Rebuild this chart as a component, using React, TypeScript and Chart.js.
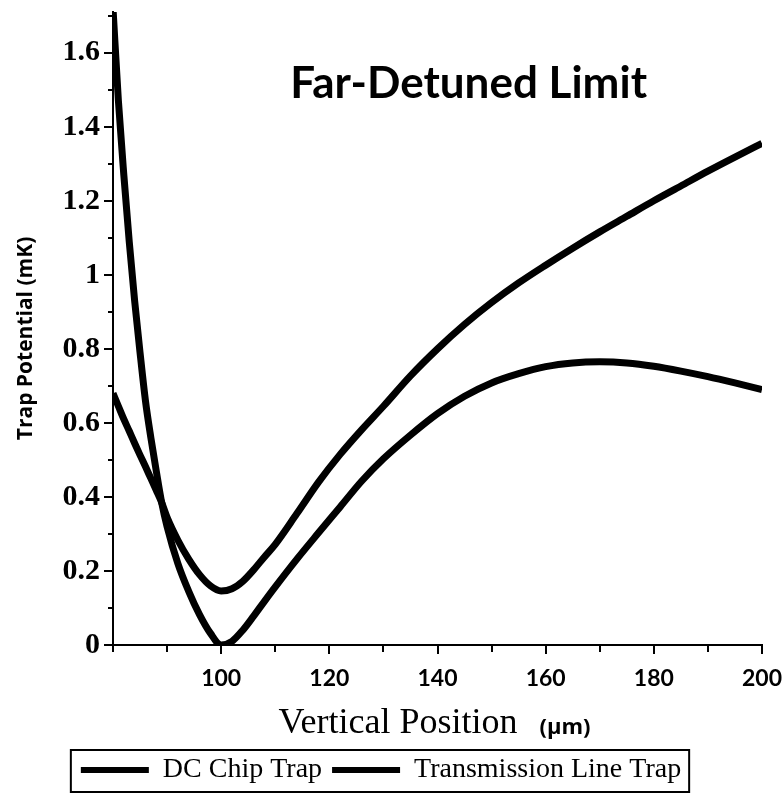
import React, { useEffect, useRef } from 'react';
import { Chart, registerables } from 'chart.js';

Chart.register(...registerables);

// Vertical position (µm)
const positions = [80, 81, 82, 83, 84, 85, 86, 87, 88, 89, 90, 92, 94, 96, 98, 100, 102, 104, 106, 108, 110, 114, 118, 122, 126, 130, 135, 140, 145, 150, 155, 160, 165, 170, 175, 180, 185, 190, 195, 200];
// Trap potential (mK)
const dcChipTrap = [1.72, 1.47, 1.27, 1.09, 0.93, 0.79, 0.66, 0.56, 0.47, 0.385, 0.32, 0.22, 0.145, 0.082, 0.032, 0.0, 0.01, 0.04, 0.078, 0.118, 0.157, 0.232, 0.303, 0.373, 0.443, 0.503, 0.567, 0.625, 0.672, 0.708, 0.733, 0.752, 0.762, 0.765, 0.762, 0.753, 0.74, 0.725, 0.708, 0.69];
const transmissionLineTrap = [0.68, 0.645, 0.61, 0.578, 0.545, 0.513, 0.482, 0.45, 0.418, 0.385, 0.345, 0.283, 0.232, 0.19, 0.16, 0.146, 0.152, 0.172, 0.203, 0.238, 0.272, 0.355, 0.44, 0.515, 0.582, 0.645, 0.727, 0.8, 0.866, 0.925, 0.978, 1.026, 1.072, 1.116, 1.158, 1.2, 1.24, 1.28, 1.318, 1.355];

const seriesNames = ['DC Chip Trap', 'Transmission Line Trap'];
const xLabelTicks = [100, 120, 140, 160, 180, 200];
const xTickMarks = [80, 90, 100, 110, 120, 130, 140, 150, 160, 170, 180, 190, 200];
const yLabelTicks = [0, 0.2, 0.4, 0.6, 0.8, 1, 1.2, 1.4, 1.6];
const yTickMarks = [0, 0.1, 0.2, 0.3, 0.4, 0.5, 0.6, 0.7, 0.8, 0.9, 1, 1.1, 1.2, 1.3, 1.4, 1.5, 1.6, 1.7];
const xRange = [80, 200];
const yRange = [0, 1.71];

const chartTitle = 'Far-Detuned Limit';
const xTitle = 'Vertical Position';
const xUnit = '(µm)';
const yTitle = 'Trap Potential (mK)';

const decorPlugin = {
  id: 'decor',
  afterDraw(chart: any) {
    const { ctx, chartArea, scales } = chart;
    const x = scales.x;
    const y = scales.y;
    ctx.save();
    ctx.strokeStyle = '#000';
    ctx.lineWidth = 2;
    // x tick marks
    xTickMarks.forEach((v) => {
      const px = Math.round(x.getPixelForValue(v));
      const len = xLabelTicks.includes(v) ? 9 : 7;
      ctx.beginPath();
      ctx.moveTo(px, chartArea.bottom);
      ctx.lineTo(px, chartArea.bottom + len);
      ctx.stroke();
    });
    // y tick marks
    yTickMarks.forEach((v) => {
      const py = Math.round(y.getPixelForValue(v));
      const major = yLabelTicks.some((t) => Math.abs(t - v) < 1e-6);
      const len = major ? 9 : 5;
      ctx.beginPath();
      ctx.moveTo(chartArea.left - len, py);
      ctx.lineTo(chartArea.left, py);
      ctx.stroke();
    });

    ctx.fillStyle = '#000';

    // y axis title (rotated)
    ctx.save();
    ctx.translate(26, (chartArea.top + chartArea.bottom) / 2 + 10);
    ctx.rotate(-Math.PI / 2);
    ctx.font = 'bold 21px "Open Sans"';
    ctx.textAlign = 'center';
    ctx.textBaseline = 'middle';
    ctx.fillText(yTitle, 0, 0);
    ctx.restore();

    // chart title inside plot
    ctx.font = 'bold 44px Lato';
    ctx.textAlign = 'center';
    ctx.textBaseline = 'alphabetic';
    ctx.fillText(chartTitle, chartArea.left + (chartArea.right - chartArea.left) * 0.548, 98);

    // x axis title (two fonts)
    ctx.font = '36px "Liberation Serif"';
    const w1 = ctx.measureText(xTitle).width;
    ctx.font = 'bold 22px "Open Sans"';
    const w2 = ctx.measureText(xUnit).width;
    const gap = 22;
    const total = w1 + gap + w2;
    const cx = (chartArea.left + chartArea.right) / 2 - 3;
    const startX = cx - total / 2;
    ctx.textAlign = 'left';
    ctx.font = '36px "Liberation Serif"';
    ctx.fillText(xTitle, startX, 733);
    ctx.font = 'bold 22px "Open Sans"';
    ctx.fillText(xUnit, startX + w1 + gap, 734);

    // legend border
    const legend = chart.legend;
    if (legend && legend.legendHitBoxes && legend.legendHitBoxes.length) {
      const hbs = legend.legendHitBoxes;
      const left = Math.min(...hbs.map((h: any) => h.left)) - 10;
      const right = Math.max(...hbs.map((h: any) => h.left + h.width)) + 8;
      const top = Math.min(...hbs.map((h: any) => h.top)) - 6;
      const bottom = Math.max(...hbs.map((h: any) => h.top + h.height)) + 8;
      ctx.lineWidth = 2;
      ctx.strokeRect(left, top, right - left, bottom - top);
    }
    ctx.restore();
  },
};

export default function App() {
  const canvasRef = useRef<HTMLCanvasElement | null>(null);

  useEffect(() => {
    const canvas = canvasRef.current;
    if (!canvas) return;
    const lineStyle = {
      borderColor: '#000',
      backgroundColor: '#000',
      borderWidth: 7,
      pointRadius: 0,
      cubicInterpolationMode: 'monotone',
      borderJoinStyle: 'round',
    };
    const chart = new Chart(canvas, {
      type: 'line',
      data: {
        datasets: [
          {
            label: seriesNames[0],
            data: positions.map((p, i) => ({ x: p, y: dcChipTrap[i] })),
            ...lineStyle,
          },
          {
            label: seriesNames[1],
            data: positions.map((p, i) => ({ x: p, y: transmissionLineTrap[i] })),
            ...lineStyle,
          },
        ],
      },
      options: {
        animation: false,
        responsive: false,
        devicePixelRatio: 1,
        layout: { padding: { top: 12, right: 20, left: 0, bottom: 0 } },
        plugins: {
          tooltip: { enabled: false },
          title: { display: false },
          legend: {
            display: true,
            position: 'bottom',
            labels: {
              color: '#000',
              font: { family: '"Liberation Serif"', size: 28 },
              boxWidth: 68,
              boxHeight: 6,
              padding: 10,
              generateLabels: (ch: any) =>
                Chart.defaults.plugins.legend.labels.generateLabels(ch).map((l: any) => ({
                  ...l,
                  lineWidth: 0,
                  fillStyle: '#000',
                  strokeStyle: '#000',
                })),
            },
          },
        },
        scales: {
          x: {
            type: 'linear',
            min: xRange[0],
            max: xRange[1],
            afterBuildTicks: (s: any) => {
              s.ticks = xLabelTicks.map((v) => ({ value: v }));
            },
            afterFit: (s: any) => {
              s.height = 101;
              s.paddingRight = 0;
              s.paddingLeft = 0;
            },
            grid: { display: false, drawTicks: false },
            border: { display: true, color: '#000', width: 2 },
            ticks: {
              color: '#000',
              font: { family: 'Lato', weight: 'bold', size: 23 },
              padding: 20,
              maxRotation: 0,
              callback: (v: any) => String(v),
            },
          },
          y: {
            type: 'linear',
            min: yRange[0],
            max: yRange[1],
            afterBuildTicks: (s: any) => {
              s.ticks = yLabelTicks.map((v) => ({ value: v }));
            },
            afterFit: (s: any) => {
              s.width = 113;
              s.paddingTop = 0;
              s.paddingBottom = 0;
            },
            grid: { display: false, drawTicks: false },
            border: { display: true, color: '#000', width: 2 },
            title: { display: false },
            ticks: {
              color: '#000',
              font: { family: '"Liberation Serif"', weight: 'bold', size: 30 },
              padding: 13,
              callback: (v: any) => String(Math.round(Number(v) * 10) / 10),
            },
          },
        },
      },
      plugins: [decorPlugin],
    } as any);
    return () => chart.destroy();
  }, []);

  return (
    <div style={{ position: 'absolute', left: 0, top: 0, width: 782, height: 794, background: '#fff' }}>
      <canvas ref={canvasRef} width={782} height={794} style={{ display: 'block', width: 782, height: 794 }} />
    </div>
  );
}
